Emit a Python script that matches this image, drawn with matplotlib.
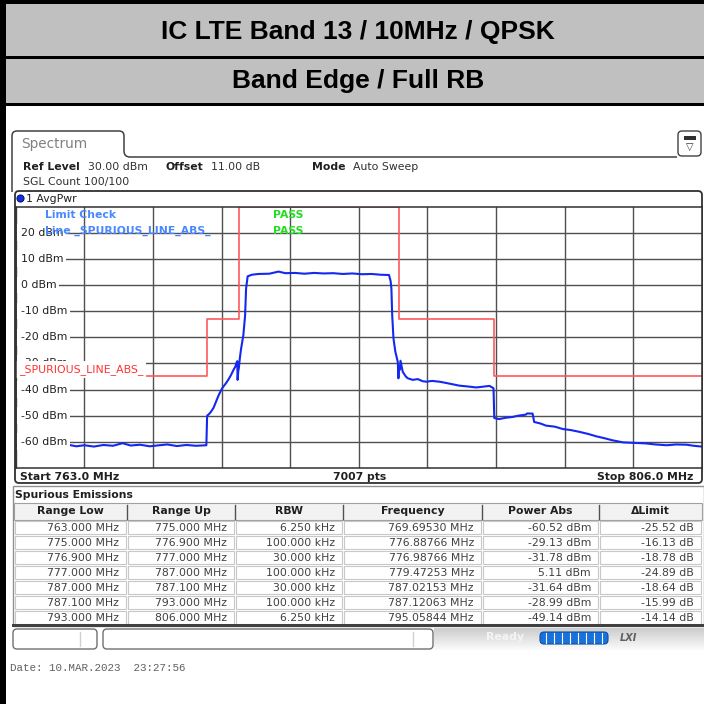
import matplotlib
matplotlib.use('Agg')
import matplotlib.pyplot as plt
from matplotlib.patches import Rectangle, FancyBboxPatch, Circle
from matplotlib.path import Path
from matplotlib.patches import PathPatch
import numpy as np

title_1 = 'IC LTE Band 13 / 10MHz / QPSK'
title_2 = 'Band Edge / Full RB'

f_start, f_stop = 763.0, 806.0
ref_level, y_bottom = 30, -70
y_grid = [20, 10, 0, -10, -20, -30, -40, -50, -60]

# trace (MHz, dBm)
trace_freq = [763.0, 763.4, 763.9, 764.5, 765.0, 765.6, 766.2, 766.8, 767.3, 767.9,
              768.5, 769.1, 769.7, 770.2, 770.8, 771.4, 772.0, 772.5, 773.1, 773.7,
              774.3, 774.95, 775.0, 775.1, 775.25, 775.4, 775.56, 775.7, 775.87, 776.0,
              776.19, 776.35, 776.5, 776.65, 776.77, 776.85, 776.888, 776.91, 776.95, 776.988,
              777.05, 777.13, 777.27, 777.38, 777.44, 777.54, 777.8, 778.2, 778.9, 779.47,
              779.9, 780.5, 781.1, 781.7, 782.3, 782.9, 783.5, 784.1, 784.7, 785.3,
              785.9, 786.4, 786.5, 786.55, 786.6, 786.68, 786.8, 786.95, 786.99, 787.02,
              787.07, 787.12, 787.26, 787.45, 787.58, 787.89, 788.2, 788.5, 788.73, 789.1,
              789.57, 790.0, 790.4, 790.8, 791.3, 791.87, 792.3, 792.7, 792.95, 793.0,
              793.3, 793.7, 794.13, 794.5, 794.97, 795.06, 795.4, 795.5, 795.9, 796.24,
              796.8, 797.3, 797.8, 798.35, 798.9, 799.4, 799.9, 800.4, 801.07, 801.8,
              802.5, 803.1, 803.8, 804.4, 805.05, 805.5, 806.0]
trace_dbm = [-61.6, -61.2, -61.8, -61.3, -61.9, -61.4, -61.0, -61.7, -61.3, -61.8,
             -61.2, -61.5, -60.52, -61.4, -61.1, -61.7, -61.3, -61.0, -61.6, -61.2,
             -61.5, -61.3, -50.0, -49.5, -48.4, -47.0, -44.6, -42.5, -40.3, -39.0,
             -37.5, -36.0, -34.4, -32.5, -31.2, -29.6, -29.13, -36.3, -33.0, -31.78,
             -28.0, -24.3, -19.2, -11.6, -1.4, 3.3, 3.9, 4.2, 4.3, 5.11,
             4.5, 4.6, 4.3, 4.6, 4.4, 4.5, 4.2, 4.4, 4.1, 4.2,
             3.9, 3.8, 1.5, -1.4, -11.6, -20.5, -25.6, -29.4, -35.7, -31.64,
             -32.5, -28.99, -33.2, -35.0, -35.7, -36.3, -36.0, -36.8, -37.0, -36.7,
             -37.0, -37.5, -38.0, -38.5, -38.8, -39.2, -38.9, -38.6, -39.5, -50.9,
             -51.3, -50.8, -50.5, -50.0, -49.6, -49.14, -49.2, -52.4, -53.0, -53.8,
             -54.2, -55.1, -55.5, -56.2, -57.0, -57.9, -58.6, -59.4, -60.2, -60.4,
             -60.6, -61.0, -61.3, -61.0, -61.1, -61.5, -61.8]

limit_freq = [763, 775, 775, 777, 777, 787, 787, 793, 793, 806]
limit_dbm = [-35, -35, -13, -13, 30, 30, -13, -13, -35, -35]

col_names = ['Range Low', 'Range Up', 'RBW', 'Frequency', 'Power Abs', '\u0394Limit']
range_low = ['763.000 MHz', '775.000 MHz', '776.900 MHz', '777.000 MHz', '787.000 MHz', '787.100 MHz', '793.000 MHz']
range_up = ['775.000 MHz', '776.900 MHz', '777.000 MHz', '787.000 MHz', '787.100 MHz', '793.000 MHz', '806.000 MHz']
rbw = ['6.250 kHz', '100.000 kHz', '30.000 kHz', '100.000 kHz', '30.000 kHz', '100.000 kHz', '6.250 kHz']
peak_freq = ['769.69530 MHz', '776.88766 MHz', '776.98766 MHz', '779.47253 MHz', '787.02153 MHz', '787.12063 MHz', '795.05844 MHz']
power_abs = ['-60.52 dBm', '-29.13 dBm', '-31.78 dBm', '5.11 dBm', '-31.64 dBm', '-28.99 dBm', '-49.14 dBm']
delta_limit = ['-25.52 dB', '-16.13 dB', '-18.78 dB', '-24.89 dB', '-18.64 dB', '-15.99 dB', '-14.14 dB']
col_edges = [14, 127, 235, 343, 482, 599, 702]

UI = 'DejaVu Sans'
FS = 7.8

fig = plt.figure(figsize=(7.04, 7.04), dpi=100)
bg = fig.add_axes([0, 0, 1, 1])
bg.set_xlim(0, 704)
bg.set_ylim(704, 0)
bg.axis('off')

# page frame and title boxes
bg.add_patch(Rectangle((6, 4), 698, 52, fc='#c0c0c0', ec='none'))
bg.add_patch(Rectangle((6, 59), 698, 44, fc='#c0c0c0', ec='none'))
bg.add_patch(Rectangle((0, 0), 704, 4, fc='black', ec='none'))
bg.add_patch(Rectangle((0, 56), 704, 3, fc='black', ec='none'))
bg.add_patch(Rectangle((0, 103), 704, 3, fc='black', ec='none'))
bg.add_patch(Rectangle((0, 0), 6, 704, fc='black', ec='none'))
bg.text(358, 32, title_1, ha='center', va='center', fontsize=19, fontweight='bold',
        family='Liberation Sans')
bg.text(358, 81, title_2, ha='center', va='center', fontsize=19, fontweight='bold',
        family='Liberation Sans')

# spectrum tab
tab = Path([(12, 192), (12, 136), (12, 131), (17, 131), (119, 131), (124, 131), (124, 136),
            (124, 151), (124, 157), (130, 157), (677, 157)],
           [Path.MOVETO, Path.LINETO, Path.CURVE3, Path.CURVE3, Path.LINETO, Path.CURVE3,
            Path.CURVE3, Path.LINETO, Path.CURVE3, Path.CURVE3, Path.LINETO])
bg.add_patch(PathPatch(tab, fc='none', ec='#404040', lw=1.1))
bg.text(21, 144, 'Spectrum', fontsize=9.8, color='#808080', family=UI, va='center')
bg.add_patch(FancyBboxPatch((678, 131), 23, 25, boxstyle='round,pad=0,rounding_size=4',
                            fc='white', ec='#404040', lw=1.0))
bg.add_patch(Rectangle((684, 136), 12, 4, fc='#303030', ec='none'))
bg.text(690, 147, '\u25bd', fontsize=7, ha='center', va='center', color='#303030', family=UI)

# header info
bg.text(23, 167.5, 'Ref Level', fontsize=FS, fontweight='bold', family=UI, va='center', color='#202020')
bg.text(88, 167.5, '30.00 dBm', fontsize=FS, family=UI, va='center', color='#303030')
bg.text(165, 167.5, 'Offset', fontsize=FS, fontweight='bold', family=UI, va='center', color='#202020')
bg.text(211, 167.5, '11.00 dB', fontsize=FS, family=UI, va='center', color='#303030')
bg.text(312, 167.5, 'Mode', fontsize=FS, fontweight='bold', family=UI, va='center', color='#202020')
bg.text(353, 167.5, 'Auto Sweep', fontsize=FS, family=UI, va='center', color='#303030')
bg.text(23, 182.5, 'SGL Count 100/100', fontsize=FS, family=UI, va='center', color='#303030')

# diagram frame
bg.add_patch(FancyBboxPatch((15, 191), 687, 292, boxstyle='round,pad=0,rounding_size=4',
                            fc='white', ec='#303030', lw=1.3))
bg.add_patch(Circle((20.5, 198.5), 3.6, fc='#1030e0', ec='#000060', lw=0.6))
bg.text(26, 198.5, '1 AvgPwr', fontsize=FS, family=UI, va='center', color='#202020')
bg.text(20, 476.5, 'Start 763.0 MHz', fontsize=FS, fontweight='bold', family=UI, va='center', color='#202020')
bg.text(360, 476.5, '7007 pts', fontsize=FS, fontweight='bold', family=UI, va='center', ha='center', color='#202020')
bg.text(693, 476.5, 'Stop 806.0 MHz', fontsize=FS, fontweight='bold', family=UI, va='center', ha='right', color='#202020')

# spectrum axes
ax = fig.add_axes([15.7 / 704, 1 - 468 / 704, 686 / 704, (468 - 206.5) / 704])
ax.set_xlim(f_start, f_stop)
ax.set_ylim(y_bottom, ref_level)
ax.set_xticks(np.linspace(f_start, f_stop, 11))
ax.set_yticks(y_grid)
ax.tick_params(length=0, labelleft=False, labelbottom=False)
ax.grid(True, color='#505050', lw=1.0)
ax.set_axisbelow(True)
for s in ax.spines.values():
    s.set_color('#303030')
    s.set_linewidth(1.1)
    s.set_zorder(8)

ax.plot(limit_freq, limit_dbm, color='#ff5a5a', lw=1.2, zorder=3)
ax.plot(trace_freq, trace_dbm, color='#1428f0', lw=1.5, zorder=4)

yt = ax.get_yaxis_transform()
for v in y_grid:
    ax.text(0.007, v, f'{v} dBm', transform=yt, fontsize=FS, family=UI, va='center',
            color='#202020', zorder=5,
            bbox=dict(facecolor='white', edgecolor='none', pad=2.4))

ax.text(0.042, 26.9, 'Limit Check', transform=yt, fontsize=FS, fontweight='bold', family=UI,
        va='center', color='#4a88ff', zorder=6)
ax.text(0.042, 20.7, 'Line _SPURIOUS_LINE_ABS_', transform=yt, fontsize=FS, fontweight='bold',
        family=UI, va='center', color='#4a88ff', zorder=6)
ax.text(0.375, 26.9, 'PASS', transform=yt, fontsize=FS, fontweight='bold', family=UI,
        va='center', color='#22dd22', zorder=6)
ax.text(0.375, 20.7, 'PASS', transform=yt, fontsize=FS, fontweight='bold', family=UI,
        va='center', color='#22dd22', zorder=6)
ax.text(0.005, -32.3, '_SPURIOUS_LINE_ABS_', transform=yt, fontsize=FS, family=UI,
        va='center', color='#ff3030', zorder=7,
        bbox=dict(facecolor='white', edgecolor='none', pad=2.0))

# spurious emissions table
bg.text(15, 494.5, 'Spurious Emissions', fontsize=FS, fontweight='bold', family=UI, va='center',
        color='#202020')
bg.add_patch(Rectangle((13, 486), 691, 140, fc='none', ec='#909090', lw=1.0))
bg.add_patch(Rectangle((14, 503), 688, 17, fc='#f2f2f2', ec='#a0a0a0', lw=0.8))
row_h = 15
row0 = 520
columns = [range_low, range_up, rbw, peak_freq, power_abs, delta_limit]
for i, name in enumerate(col_names):
    x0, x1 = col_edges[i], col_edges[i + 1]
    bg.text((x0 + x1) / 2, 511.5, name, ha='center', va='center', fontsize=FS, fontweight='bold',
            family=UI, color='#202020')
    if i > 0:
        bg.plot([x0, x0], [505, 519], color='#505050', lw=1.0)
    for r, val in enumerate(columns[i]):
        y = row0 + r * row_h
        bg.add_patch(Rectangle((x0 + 1, y + 1), x1 - x0 - 2, row_h - 2, fc='white', ec='#c8c8c8', lw=0.8))
        bg.text(x1 - 8, y + row_h / 2 + 0.5, val, ha='right', va='center', fontsize=FS,
                family=UI, color='#404040')
bg.add_patch(Rectangle((12, 624), 692, 3, fc='#404040', ec='none'))

# status bar
grad = np.linspace(0.8, 1.0, 30).reshape(-1, 1)
bg.imshow(grad, cmap='gray', vmin=0, vmax=1, extent=(434, 704, 652, 628), aspect='auto', zorder=1)
bg.add_patch(FancyBboxPatch((13, 629), 84, 20, boxstyle='round,pad=0,rounding_size=4',
                            fc='white', ec='#707070', lw=1.0, zorder=2))
bg.plot([80, 80], [632, 646], color='#d0d0d0', lw=1.0, zorder=3)
bg.add_patch(FancyBboxPatch((103, 629), 330, 20, boxstyle='round,pad=0,rounding_size=4',
                            fc='white', ec='#707070', lw=1.0, zorder=2))
bg.plot([413, 413], [632, 646], color='#d0d0d0', lw=1.0, zorder=3)
bg.text(486, 637, 'Ready', fontsize=FS, fontweight='bold', family=UI, va='center', color='#f4f4f4', zorder=3)
bg.add_patch(FancyBboxPatch((540, 632), 68, 12, boxstyle='round,pad=0,rounding_size=4',
                            fc='#1a72d8', ec='#0b4fa8', lw=0.8, zorder=3))
for xs in np.linspace(546, 602, 8):
    bg.plot([xs, xs], [633, 643], color='white', lw=0.8, zorder=4)
bg.text(628, 638, 'LXI', fontsize=7, fontweight='bold', style='italic', family=UI, ha='center',
        va='center', color='#606060', zorder=3)

bg.text(10, 668, 'Date: 10.MAR.2023  23:27:56', fontsize=7.8, family='Liberation Mono',
        va='center', color='#606060')

fig.savefig('out.png', dpi=100)
